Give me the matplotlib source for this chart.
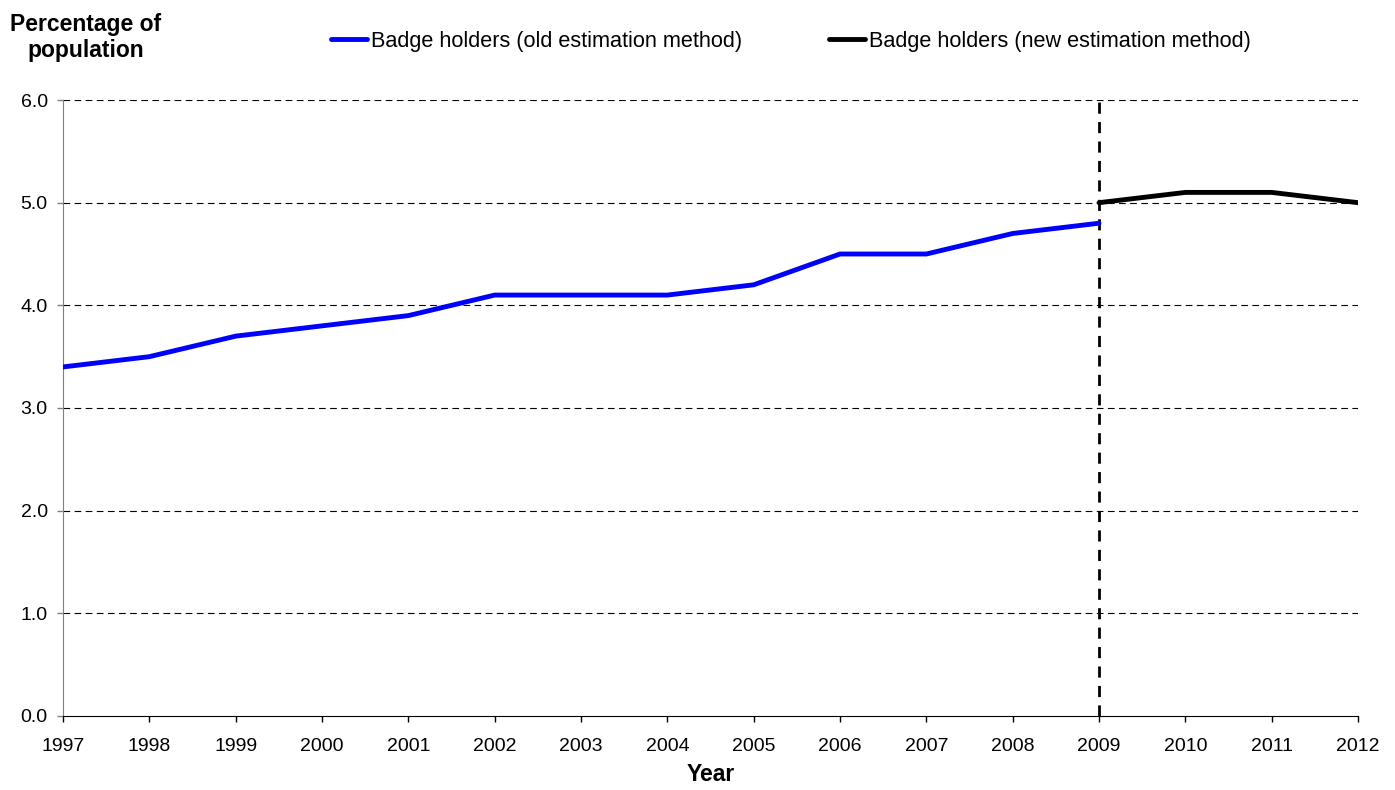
import matplotlib.pyplot as plt

plt.rcParams["font.family"] = ["Liberation Sans", "DejaVu Sans"]

years_old = [1997, 1998, 1999, 2000, 2001, 2002, 2003, 2004, 2005, 2006, 2007, 2008, 2009]
pct_old = [3.4, 3.5, 3.7, 3.8, 3.9, 4.1, 4.1, 4.1, 4.2, 4.5, 4.5, 4.7, 4.8]
years_new = [2009, 2010, 2011, 2012]
pct_new = [5.0, 5.1, 5.1, 5.0]
method_change_year = 2009
yticks = [0.0, 1.0, 2.0, 3.0, 4.0, 5.0, 6.0]

fig = plt.figure(figsize=(13.95, 7.9), dpi=100)
ax = fig.add_axes([0.0452, 0.0937, 0.9283, 0.7797])

for y in yticks[1:]:
    ax.axhline(y, color="black", linestyle=(0, (6, 4)), linewidth=0.8, zorder=1)

ax.axvline(method_change_year, color="black", linestyle=(0, (4, 3)), linewidth=2, zorder=2)

ax.plot(years_old, pct_old, color="#0000FF", linewidth=3.5, solid_capstyle="round",
        label="Badge holders (old estimation method)", zorder=3)
ax.plot(years_new, pct_new, color="black", linewidth=3.5, solid_capstyle="round",
        label="Badge holders (new estimation method)", zorder=3)

ax.set_xlim(1997, 2012)
ax.set_ylim(0, 6)
ax.set_xticks(range(1997, 2013))
ax.set_yticks(yticks)
ax.set_yticklabels([f"{v:.1f}" for v in yticks])
ax.tick_params(axis="both", labelsize=14, direction="out", length=4.5, width=1)
ax.tick_params(axis="x", pad=11)
ax.tick_params(axis="y", pad=6.5, color="#808080")

ax.spines[["top", "right"]].set_visible(False)
ax.spines["left"].set_color("#808080")
ax.spines["bottom"].set_color("black")

ax.set_xlabel("Year", fontsize=16.5, fontweight="bold", labelpad=6)
fig.text(0.0616, 0.983, "Percentage of\npopulation", ha="center", va="top",
         fontsize=16.5, fontweight="bold", linespacing=1.15)

fig.legend(loc="center left", bbox_to_anchor=(331 / 1395, 1 - 41 / 790), ncol=2,
           frameon=False, fontsize=15.6, borderpad=0, borderaxespad=0,
           handlelength=1.66, handletextpad=0.18, columnspacing=4.0)

fig.savefig("out.png", dpi=100)
